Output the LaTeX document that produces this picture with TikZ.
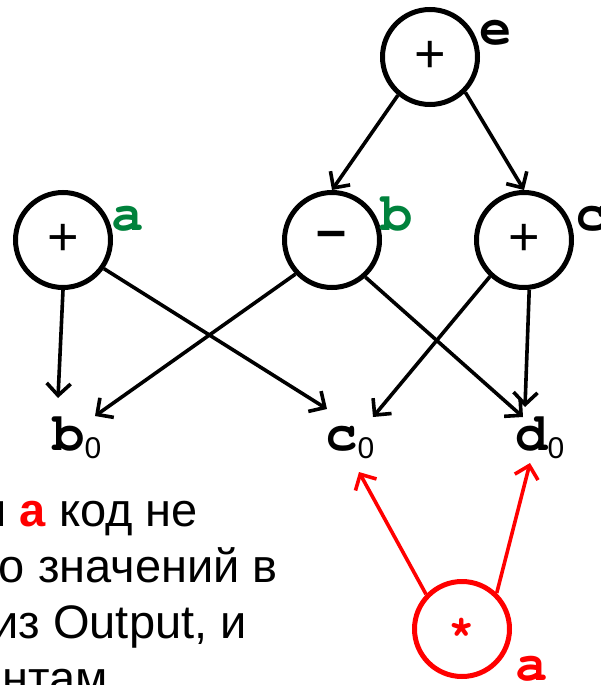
\documentclass[tikz,border=0pt]{standalone}
\usepackage[T1]{fontenc}
\usepackage{fontspec}
\setmainfont{Liberation Sans}
\newcommand\crb{\fontencoding{T1}\fontfamily{pcr}\fontseries{b}\fontshape{n}\selectfont}
\usetikzlibrary{arrows.meta,calc}
\definecolor{vgreen}{RGB}{0,130,60}
\newcommand\zsub{\raisebox{-8pt}{\normalfont\fontsize{30}{30}\selectfont 0}}
\begin{document}
\begin{tikzpicture}[x=1pt,y=-1pt,
  op/.style={circle,draw,line width=5pt,minimum size=95pt,inner sep=0pt,font=\fontsize{54}{54}\selectfont},
  lbl/.style={anchor=base west,inner sep=0pt,font=\fontsize{54}{54}\crb},
  arr/.style={line width=3.6pt,-{Straight Barb[length=12pt,width=24pt]}},
  txt/.style={anchor=base east,inner sep=0pt,font=\fontsize{47}{47}\selectfont}]
\useasboundingbox (0,0) rectangle (600,685);
\clip (0,0) rectangle (600,685);
% operation circles
\node[op] (e) at (430,57) {+};
\node[op] (a) at (63,240) {+};
\node[op] (b) at (332,240) {\bfseries –};
\node[op] (c) at (524,240) {+};
\node[op,draw=red,text=red,font=\fontsize{44}{44}\crb] (s) at (462,629) {\raisebox{-12pt}{*}};
% circle labels
\node[lbl] (le) at (479,45) {e};
\node[lbl,text=vgreen] (la) at (111,230) {a};
\node[lbl,text=vgreen] (lb) at (380,230) {b};
\node[lbl] (lc) at (575,230) {c};
\node[lbl,text=red] (ls) at (515,680) {a};
% outputs
\node[lbl] (b0) at (52,450) {b\zsub};
\node[lbl] (c0) at (325,450) {c\zsub};
\node[lbl] (d0) at (515,450) {d\zsub};
% text
\node[txt] (t1) at (198,526) {и \textbf{\textcolor{red}{a}} код не};
\node[txt] (t2) at (278,582) {о значений в};
\node[txt] (t3) at (247,638) {из Output, и};
\node[txt] (t4) at (108,694) {нтам};
% arrows
\draw[arr] (e.230) -- (b.north);
\draw[arr] (e.315) -- (c.north);
\draw[arr] (a.south) -- ($(b0.base west)+(6,-52)$);
\draw[arr] (a.325) -- ($(c0.base west)+(2,-41)$);
\draw[arr] (b.223) -- ($(b0.base west)+(43,-34)$);
\draw[arr] (b.312) -- ($(d0.base west)+(8,-33)$);
\draw[arr] (c.227) -- ($(c0.base west)+(48,-33)$);
\draw[arr] (c.276) -- ($(d0.base west)+(10,-43)$);
\draw[arr,red] (s.136) -- ($(c0.base west)+(34,22)$);
\draw[arr,red] (s.46) -- ($(d0.base west)+(15,13)$);
\end{tikzpicture}
\end{document}
